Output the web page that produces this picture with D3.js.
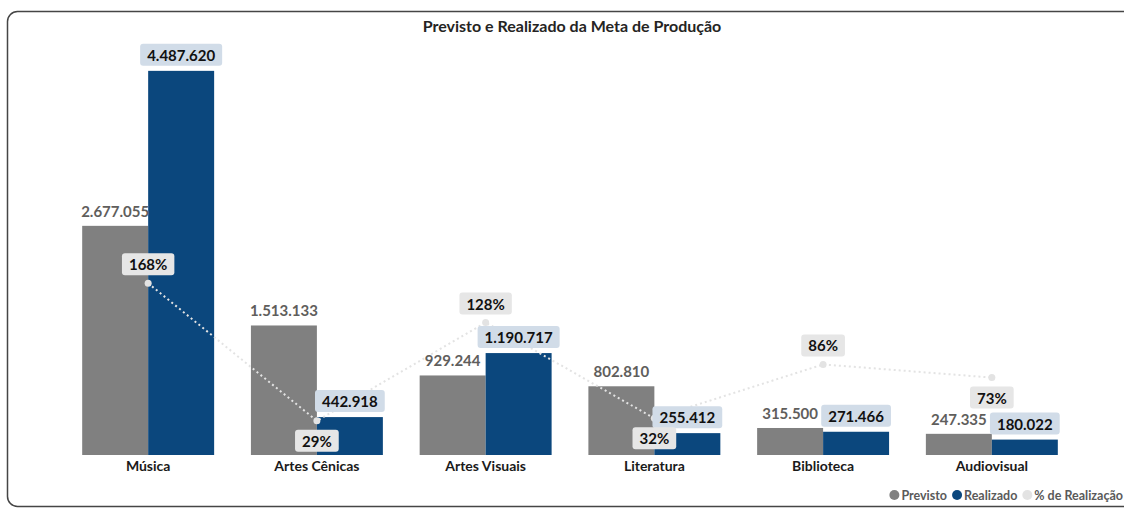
<!DOCTYPE html>
<html lang="pt">

<head>
    <meta charset="UTF-8">
    <title>Previsto e Realizado</title>
    <script src="https://d3js.org/d3.v7.min.js"></script>
    <style>
        body { margin: 0; background: #fff; }
        svg text { font-family: Lato, "Noto Sans", sans-serif; }
    </style>
</head>

<body>
    <svg width="1124" height="509"></svg>

    <script>
        const categories = ['Música', 'Artes Cênicas', 'Artes Visuais', 'Literatura', 'Biblioteca', 'Audiovisual'];
        const previsto = [2677055, 1513133, 929244, 802810, 315500, 247335];
        const realizado = [4487620, 442918, 1190717, 255412, 271466, 180022];
        const pctRealizacao = [167.6, 29.3, 128.1, 31.8, 86.0, 72.8];
        const seriesNames = ['Previsto', 'Realizado'];
        const legendNames = ['Previsto', 'Realizado', '% de Realização'];

        const colors = { Previsto: '#808080', Realizado: '#0b477d', pct: '#e3e3e3' };
        const fmt = d3.format(',.0f');
        const fmtBR = v => fmt(v).replace(/,/g, '.');

        const svg = d3.select('svg');

        // frame
        svg.append('rect')
            .attr('x', 7.5).attr('y', 11.5)
            .attr('width', 1140).attr('height', 495)
            .attr('rx', 10)
            .attr('fill', 'none')
            .attr('stroke', '#454545')
            .attr('stroke-width', 1.5);

        svg.append('text')
            .attr('x', 572).attr('y', 32)
            .attr('text-anchor', 'middle')
            .attr('font-size', 16).attr('font-weight', 700)
            .attr('fill', '#252423')
            .text('Previsto e Realizado da Meta de Produção');

        const x = d3.scaleBand().domain(categories).range([40, 1100])
            .paddingInner(0.218).paddingOuter(0.25);
        const xs = d3.scaleBand().domain(seriesNames).range([0, x.bandwidth()]);
        const y = d3.scaleLinear().domain([0, 5000000]).range([455, 27]);
        const y2 = d3.scaleLinear().domain([0, 200]).range([450, 251]);

        const rows = categories.map((c, i) => ({
            cat: c, i,
            vals: [{ s: 'Previsto', v: previsto[i] }, { s: 'Realizado', v: realizado[i] }],
            pct: pctRealizacao[i]
        }));

        const g = svg.append('g');

        const groups = g.selectAll('g.cat')
            .data(rows)
            .enter()
            .append('g')
            .attr('class', 'cat')
            .attr('transform', d => `translate(${x(d.cat)},0)`);

        groups.selectAll('rect')
            .data(d => d.vals)
            .enter()
            .append('rect')
            .attr('x', d => xs(d.s))
            .attr('y', d => y(d.v))
            .attr('width', xs.bandwidth())
            .attr('height', d => y(0) - y(d.v))
            .attr('fill', d => colors[d.s]);

        // x axis labels
        const xAxis = d3.axisBottom(x).tickSize(0).tickPadding(6);
        const ax = g.append('g').attr('transform', `translate(0,${y(0)})`).call(xAxis);
        ax.select('.domain').remove();
        ax.selectAll('text')
            .attr('font-size', 14).attr('font-weight', 700)
            .attr('fill', '#1a1a1a')
            .style('font-family', 'Lato, "Noto Sans", sans-serif');

        // % line
        const cx = d => x(d.cat) + x.bandwidth() / 2;
        const line = d3.line().x(cx).y(d => y2(d.pct));
        g.append('path')
            .datum(rows)
            .attr('d', line)
            .attr('fill', 'none')
            .attr('stroke', colors.pct)
            .attr('stroke-width', 2)
            .attr('stroke-dasharray', '2 3');

        g.selectAll('circle.pt')
            .data(rows)
            .enter()
            .append('circle')
            .attr('class', 'pt')
            .attr('cx', cx)
            .attr('cy', d => y2(d.pct))
            .attr('r', 3.5)
            .attr('fill', colors.pct);

        // label helper with box
        function boxLabel(parent, tx, ty, text, opts) {
            const lg = parent.append('g');
            const t = lg.append('text')
                .attr('x', tx).attr('y', ty)
                .attr('text-anchor', 'middle')
                .attr('dominant-baseline', 'central')
                .attr('font-size', 15).attr('font-weight', 700)
                .attr('fill', opts.color)
                .text(text);
            if (opts.bg) {
                const w = t.node().getComputedTextLength() + 14;
                lg.insert('rect', 'text')
                    .attr('x', tx - w / 2).attr('y', ty - 11)
                    .attr('width', w).attr('height', 22)
                    .attr('rx', 3)
                    .attr('fill', opts.bg);
            }
        }

        const labels = g.append('g');
        rows.forEach(d => {
            const x0 = x(d.cat);
            boxLabel(labels, x0 + xs('Previsto') + xs.bandwidth() / 2, y(d.vals[0].v) - 15,
                fmtBR(d.vals[0].v), { color: '#5f5e5c' });
        });
        rows.forEach(d => {
            const x0 = x(d.cat);
            boxLabel(labels, x0 + xs('Realizado') + xs.bandwidth() / 2, y(d.vals[1].v) - 16,
                fmtBR(d.vals[1].v), { color: '#111', bg: '#d1dce8' });
        });
        rows.forEach((d, i) => {
            const above = i % 2 === 0;
            boxLabel(labels, cx(d), y2(d.pct) + (above ? -19 : 20),
                Math.round(d.pct) + '%', { color: '#111', bg: '#e6e6e6' });
        });

        // legend, laid out from the right edge
        const legendColors = [colors.Previsto, colors.Realizado, colors.pct];
        const leg = svg.append('g');
        const items = legendNames.map((n, i) => {
            const ig = leg.append('g');
            ig.append('circle')
                .attr('cx', 0).attr('cy', 495)
                .attr('r', 5)
                .attr('fill', legendColors[i]);
            const t = ig.append('text')
                .attr('x', 7).attr('y', 495)
                .attr('dominant-baseline', 'central')
                .attr('font-size', 12.5).attr('font-weight', 700)
                .attr('fill', '#5a5a5a')
                .text(n);
            return { ig, w: 7 + t.node().getComputedTextLength() };
        });
        let right = 1123;
        for (let i = items.length - 1; i >= 0; i--) {
            const left = right - items[i].w;
            items[i].ig.attr('transform', `translate(${left},0)`);
            right = left - 10;
        }
    </script>
</body>

</html>
